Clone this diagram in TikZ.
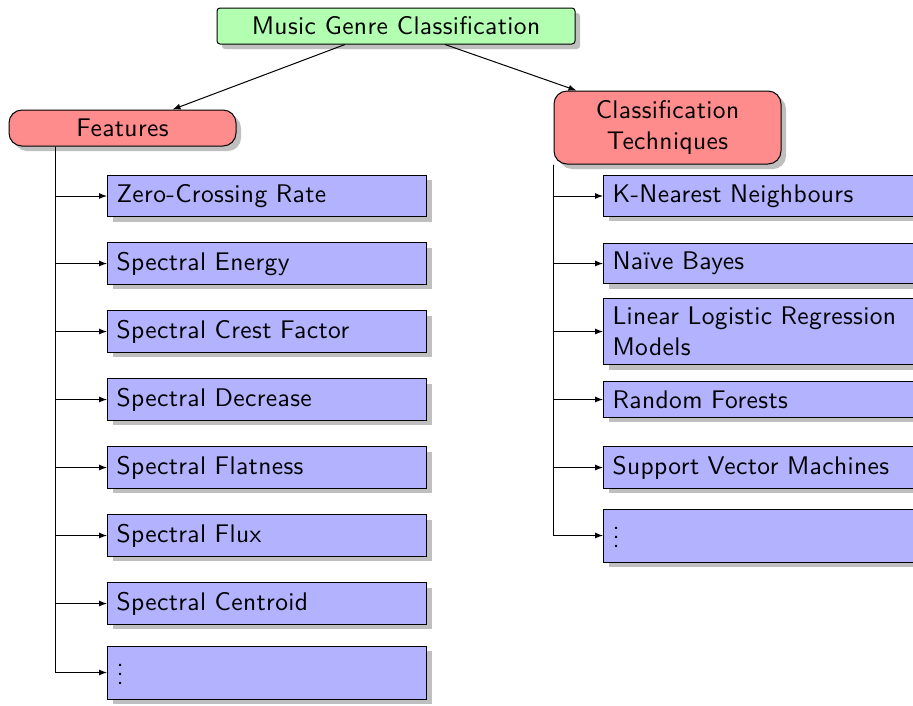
\documentclass[tikz,border=0pt]{standalone}
\usepackage{fontspec}
\setsansfont{lmsans10-regular.otf}[LetterSpace=1.5]
\usetikzlibrary{shadows,arrows.meta,calc}
\newcommand{\myvdots}{\lower4pt\vbox{\baselineskip9pt\lineskiplimit0pt\kern4pt\hbox{.}\hbox{.}\hbox{.}}}
\begin{document}
\begin{tikzpicture}[x=1pt,y=-1pt,
  font=\sffamily\fontsize{25.5}{31}\selectfont,
  >={Latex[length=8pt,width=6pt]},
  line width=1pt,
  shad/.style={drop shadow={shadow xshift=5pt,shadow yshift=-5pt,fill=black!25,opacity=1}},
  topbox/.style={draw,fill=green!30,rounded corners=3pt,minimum width=358pt,minimum height=36pt,inner sep=0pt,shad},
  catbox/.style={draw,fill=red!45,rounded corners=13pt,minimum width=227pt,inner sep=0pt,shad,align=center},
  leaf/.style={draw,fill=blue!30,anchor=west,text width=301pt,inner xsep=9pt,inner ysep=9pt,align=left,shad},
]
\useasboundingbox (0,0) rectangle (913,705);
\node[topbox] (mgc) at (396,26) {Music Genre Classification};
\node[catbox,minimum height=36pt] (feat) at (122.5,128) {Features};
\node[catbox,minimum height=73pt] (ct) at (667.5,127.5) {Classification\\Techniques};

\node[leaf] (f1) at (107,196) {Zero-Crossing Rate};
\node[leaf] (f2) at (107,263.5) {Spectral Energy};
\node[leaf] (f3) at (107,331.5) {Spectral Crest Factor};
\node[leaf] (f4) at (107,399.5) {Spectral Decrease};
\node[leaf] (f5) at (107,467.5) {Spectral Flatness};
\node[leaf] (f6) at (107,535.5) {Spectral Flux};
\node[leaf] (f7) at (107,603.5) {Spectral Centroid};
\node[leaf,minimum height=53pt] (f8) at (107,672.5) {\myvdots};

\node[leaf] (r1) at (603,196) {K-Nearest Neighbours};
\node[leaf] (r2) at (603,263.5) {Naïve Bayes};
\node[leaf] (r3) at (603,331.5) {Linear Logistic Regression Models};
\node[leaf] (r4) at (603,399.5) {Random Forests};
\node[leaf] (r5) at (603,467.5) {Support Vector Machines};
\node[leaf,minimum height=53pt] (r6) at (603,535.5) {\myvdots};

\draw[->] ($(mgc.south)+(-51,0)$) -- ($(feat.north)+(50,0)$);
\draw[->] ($(mgc.south)+(49,0)$) -- ($(ct.north)+(-91,0)$);

\coordinate (ftr) at (55,146);
\foreach \n in {f1,f2,f3,f4,f5,f6,f7,f8}
  \draw[->] (feat.south -| ftr) |- (\n.west);
\foreach \n in {r1,r2,r3,r4,r5,r6}
  \draw[->] (ct.south west) |- (\n.west);
\end{tikzpicture}
\end{document}
